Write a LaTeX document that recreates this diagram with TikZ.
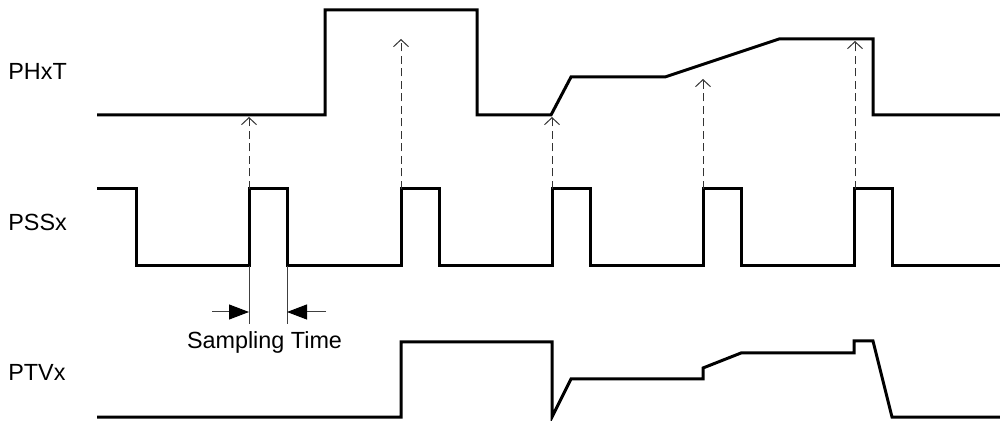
\documentclass[tikz,border=0pt]{standalone}
\usepackage{fontspec}
\setmainfont{Liberation Sans}
\usetikzlibrary{arrows.meta}

\tikzset{
    wave/.style={line width=0.6mm},
    sample/.style={draw=black!80, line width=0.2mm, dash pattern=on 1.6mm off 0.9mm,
        -{Straight Barb[length=1.4mm, width=3mm]}},
    marker/.style={draw=black!75, line width=0.2mm},
    timearrow/.style={marker, -{Triangle[length=4mm, width=3mm, fill=black, color=black]}},
    signame/.style={inner sep=0pt, font=\fontsize{13.3}{15}\selectfont}
}

\begin{document}
\begin{tikzpicture}[x=0.2mm, y=-0.2mm]
        \useasboundingbox (0,0) rectangle (1000,421);
        % signal names
        \node [signame, anchor=west] (phxt) at (8,71) {PHxT};
        \node [signame, anchor=west] (pssx) at (8,222) {PSSx};
        \node [signame, anchor=west] (ptvx) at (8,372) {PTVx};
        % PHxT
        \draw [wave] (97,115) -- (325,115) -- (325,10) -- (477,10) -- (477,115)
            -- (551,115) -- (571,77) -- (665,77) -- (779,39) -- (873,39)
            -- (873,115) -- (1000,115);
        % PSSx
        \draw [wave] (97,189) -- (136,189) -- (136,266)
            -- (249,266) -- (249,189) -- (287,189) -- (287,266)
            -- (401,266) -- (401,189) -- (439,189) -- (439,266)
            -- (552,266) -- (552,189) -- (590,189) -- (590,266)
            -- (703,266) -- (703,189) -- (741,189) -- (741,266)
            -- (854,266) -- (854,189) -- (892,189) -- (892,266)
            -- (1000,266);
        % PTVx
        \draw [wave] (97,417) -- (401,417) -- (401,342) -- (552,342) -- (552,417)
            -- (571,379) -- (703,379) -- (703,368) -- (741,353) -- (854,353)
            -- (854,341) -- (873,341) -- (892,417) -- (1000,417);
        % sampling
        \foreach \x/\y [count=\i] in {249/117, 401/39, 552/117, 703/79, 855/41} {
            \coordinate (s\i) at (\x,189);
            \coordinate (h\i) at (\x,\y);
            \draw [sample] (s\i) -- (h\i);
        }
        % sampling time
        \coordinate (ta) at (249,266);
        \coordinate (tb) at (287,266);
        \coordinate (ta2) at (249,324);
        \coordinate (tb2) at (287,324);
        \draw [marker] (ta) -- (ta2);
        \draw [marker] (tb) -- (tb2);
        \coordinate (la) at (212,312);
        \coordinate (lb) at (249,312);
        \coordinate (ra) at (326,312);
        \coordinate (rb) at (287,312);
        \draw [timearrow] (la) -- (lb);
        \draw [timearrow] (ra) -- (rb);
        \node [signame, anchor=base] (stime) at (264.5,348.5) {Sampling Time};
    \end{tikzpicture}
\end{document}
